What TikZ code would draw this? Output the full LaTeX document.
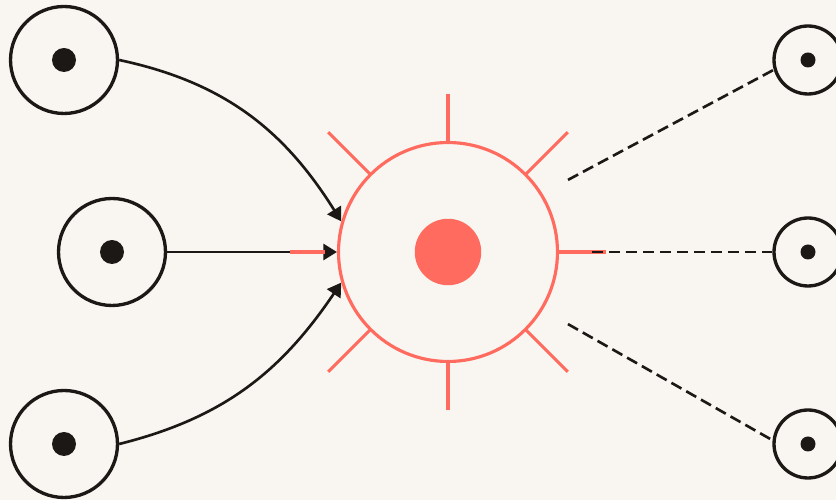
\documentclass[tikz,border=0pt]{standalone}
\usetikzlibrary{arrows.meta,calc}
\definecolor{paper}{HTML}{F9F6F2}
\definecolor{coral}{HTML}{FF6B5F}
\definecolor{ink}{HTML}{1C1816}

\begin{document}
\begin{tikzpicture}[x=0.02cm,y=0.02cm,>={Triangle[length=0.27cm,width=0.32cm]},
   source/.style={circle,draw=ink,line width=1.9pt,minimum size=2.14cm,inner sep=0pt,
     path picture={\fill[ink] (path picture bounding box.center) circle (0.24cm);}},
   sink/.style={circle,draw=ink,line width=1.9pt,minimum size=1.36cm,inner sep=0pt,
     path picture={\fill[ink] (path picture bounding box.center) circle (0.15cm);}},
   hub/.style={circle,draw=coral,line width=1.8pt,minimum size=4.38cm,inner sep=0pt,
     path picture={\fill[coral] (path picture bounding box.center) circle (0.665cm);}},
   feed/.style={->,draw=ink,line width=1.5pt},
   leak/.style={draw=ink,line width=1.5pt,dash pattern=on 0.23cm off 0.11cm},
   ray/.style={draw=coral,line width=1.8pt}]
  \useasboundingbox[fill=paper] (0,0) rectangle (836,500);

  \node[source] (s1) at (64,440) {};
  \node[source] (s2) at (112,248) {};
  \node[source] (s3) at (64,56) {};
  \node[hub] (c) at (448,248) {};
  \node[sink] (t1) at (808,440) {};
  \node[sink] (t2) at (808,248) {};
  \node[sink] (t3) at (808,56) {};

  % incoming
  \path
   (s1.east) edge[feed,out=-12,in=122] (c.164)
   (s2.east) edge[feed] (c.west)
   (s3.east) edge[feed,out=14,in=236] (c.196);

  % spikes
  \foreach \a/\cut in {0/0pt,90/0pt,180/7.5pt,270/0pt}
    \draw[ray,shorten <=\cut] (c.center) ++(\a:2.19cm) -- ++(\a:0.98cm);
  \foreach \a in {45,135,225,315}
    \draw[ray] (c.center) ++(\a:2.19cm) -- ++(\a:1.2cm);

  % outgoing
  \coordinate (o1) at ($(c.center)+(31:2.8cm)$);
  \coordinate (o2) at ($(c.center)+(0:2.88cm)$);
  \coordinate (o3) at ($(c.center)+(-31:2.8cm)$);
  \path
   (o1) edge[leak] (t1.196)
   (o2) edge[leak] (t2.west)
   (o3) edge[leak] (t3.174);
\end{tikzpicture}
\end{document}
